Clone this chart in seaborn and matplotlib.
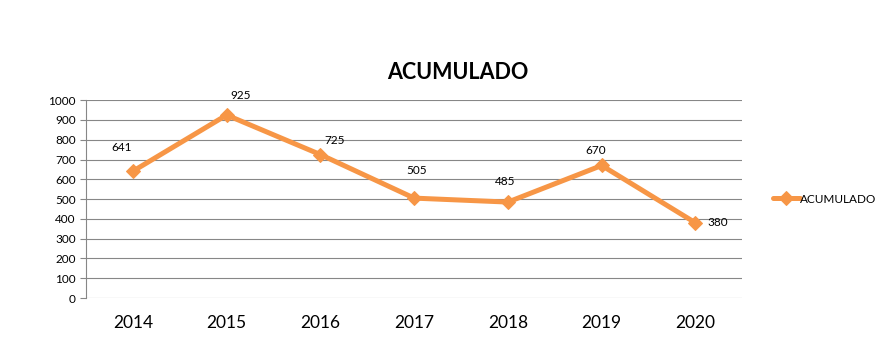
import matplotlib
matplotlib.use("Agg")
import matplotlib.pyplot as plt
import seaborn as sns
import pandas as pd

years = ["2014", "2015", "2016", "2017", "2018", "2019", "2020"]
acumulado = [641, 925, 725, 505, 485, 670, 380]

# label offsets in points (dx, dy)
label_offsets = [(-8, 17), (10, 14), (10, 10), (2, 20), (-2, 15), (-4, 11), (16, 0)]

df = pd.DataFrame({"year": years, "ACUMULADO": acumulado})

sns.set_style("white")
plt.rcParams["font.family"] = ["Lato", "DejaVu Sans"]
plt.rcParams["text.color"] = "black"
plt.rcParams["xtick.color"] = "black"
plt.rcParams["ytick.color"] = "black"

fig = plt.figure(figsize=(8.93, 3.63), dpi=100)
ax = fig.add_axes([0.0963, 0.179, 0.735, 0.545])

orange = "#F79646"
sns.lineplot(data=df, x="year", y="ACUMULADO", ax=ax, color=orange, linewidth=3.6,
             marker="D", markersize=7, markeredgecolor=orange, label="ACUMULADO",
             sort=False)

for i, (y, v) in enumerate(zip(years, acumulado)):
    dx, dy = label_offsets[i]
    ax.annotate(str(v), (i, v), xytext=(dx, dy), textcoords="offset points",
                ha="center", va="center", fontsize=8.5, color="black")

ax.set_ylim(0, 1000)
ax.set_xlim(-0.5, 6.5)
ax.set_yticks(range(0, 1001, 100))
ax.yaxis.grid(True, color="#878787", linewidth=0.8)
ax.set_axisbelow(True)
for s in ["top", "right", "bottom"]:
    ax.spines[s].set_visible(False)
ax.spines["left"].set_color("#878787")
ax.tick_params(axis="y", labelsize=8.5, length=4, color="#878787", labelcolor="black",
               direction="out", left=True)
ax.tick_params(axis="x", labelsize=12.5, length=0, pad=12, labelcolor="black")
ax.set_xlabel("")
ax.set_ylabel("")

fig.text(0.513, 0.80, "ACUMULADO", fontsize=15.5, fontweight="bold",
         ha="center", va="center", color="black")

ax.legend(loc="center left", bbox_to_anchor=(1.03, 0.5), frameon=False,
          fontsize=8.5, handlelength=2.3, handletextpad=0.0)

fig.savefig("out.png", dpi=100)
